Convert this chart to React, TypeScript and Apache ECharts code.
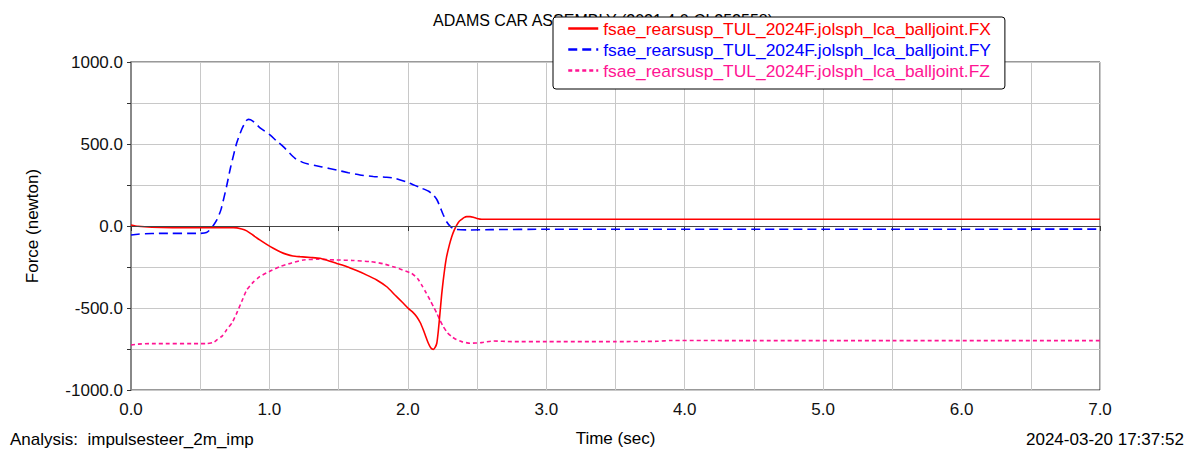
import React, { useEffect, useRef } from "react";
import * as echarts from "echarts";

const FONT = "'Liberation Sans', Arial, Helvetica, sans-serif";

const TITLE = "ADAMS CAR ASSEMBLY (2021.4.0-CL252558)";
const NAME_FX = "fsae_rearsusp_TUL_2024F.jolsph_lca_balljoint.FX";
const NAME_FY = "fsae_rearsusp_TUL_2024F.jolsph_lca_balljoint.FY";
const NAME_FZ = "fsae_rearsusp_TUL_2024F.jolsph_lca_balljoint.FZ";

const X_AXIS_NAME = "Time (sec)";
const Y_AXIS_NAME = "Force (newton)";
const ANALYSIS_TEXT = "Analysis:  impulsesteer_2m_imp";
const DATE_TEXT = "2024-03-20 17:37:52";

// FX (red, solid)
const tFX = [0, 0.05, 0.15, 0.3, 0.74, 0.8, 0.836, 0.88, 0.93, 0.98, 1.028, 1.08, 1.125, 1.17, 1.22, 1.3, 1.365, 1.42, 1.486, 1.56, 1.63, 1.7, 1.775, 1.85, 1.907, 1.96, 2.003, 2.035, 2.064, 2.09, 2.112, 2.13, 2.148, 2.165, 2.184, 2.197, 2.209, 2.22, 2.232, 2.244, 2.256, 2.268, 2.28, 2.3, 2.317, 2.335, 2.353, 2.37, 2.389, 2.405, 2.425, 2.45, 2.473, 2.5, 2.533, 3.0, 4.0, 5.0, 6.0, 7.0];
const vFX = [6, -2, -8, -10, -10, -18, -30, -55, -85, -112, -136, -158, -173, -183, -187, -192, -197, -210, -228, -248, -272, -298, -329, -372, -421, -465, -502, -525, -553, -590, -634, -675, -715, -742, -752, -740, -715, -640, -532, -420, -329, -250, -187, -115, -65, -25, 6, 28, 41, 51, 57, 57, 53, 46, 41, 41, 41, 41, 41, 41];

// FY (blue, dashed)
const tFY = [0, 0.05, 0.1, 0.2, 0.5, 0.545, 0.58, 0.62, 0.65, 0.69, 0.72, 0.763, 0.8, 0.83, 0.848, 0.88, 0.93, 1.004, 1.05, 1.1, 1.185, 1.24, 1.28, 1.38, 1.486, 1.57, 1.654, 1.75, 1.847, 1.907, 2.003, 2.1, 2.15, 2.184, 2.21, 2.232, 2.255, 2.28, 2.31, 2.34, 2.45, 2.6, 3.0, 5.0, 7.0];
const vFY = [-55, -50, -47, -45, -45, -40, -15, 37, 100, 240, 360, 504, 590, 640, 650, 640, 600, 555, 520, 484, 413, 388, 378, 360, 341, 325, 311, 302, 297, 291, 264, 230, 212, 189, 160, 118, 70, 26, -5, -20, -24, -22, -20, -20, -19];

// FZ (pink, dotted)
const tFZ = [0, 0.05, 0.15, 0.55, 0.6, 0.62, 0.66, 0.69, 0.73, 0.763, 0.8, 0.836, 0.88, 0.93, 1.0, 1.076, 1.16, 1.245, 1.35, 1.486, 1.6, 1.726, 1.82, 1.907, 2.027, 2.07, 2.1, 2.13, 2.16, 2.185, 2.209, 2.232, 2.256, 2.285, 2.317, 2.35, 2.389, 2.449, 2.533, 2.617, 2.75, 3.0, 3.5, 3.8, 3.9, 4.5, 5.5, 7.0];
const vFZ = [-726, -720, -717, -717, -708, -695, -670, -634, -590, -533, -460, -390, -345, -309, -277, -248, -225, -207, -203, -207, -210, -217, -230, -252, -289, -320, -360, -405, -451, -492, -532, -575, -614, -650, -675, -692, -705, -715, -711, -701, -705, -705, -705, -703, -698, -699, -699, -699];

const X_MIN = 0;
const X_MAX = 7;
const X_STEP = 1;
const Y_MIN = -1000;
const Y_MAX = 1000;
const Y_STEP = 500;

const zip = (t: number[], v: number[]) => t.map((x, i) => [x, v[i]]);

export default function App() {
  const ref = useRef<HTMLDivElement>(null);

  useEffect(() => {
    document.body.style.margin = "0";
    document.body.style.overflow = "hidden";
    if (!ref.current) return;
    const chart = echarts.init(ref.current, undefined, { renderer: "svg" });

    const gridColor = "#c8c8c8";
    const option: any = {
      animation: false,
      backgroundColor: "#ffffff",
      textStyle: { fontFamily: FONT },
      title: {
        text: TITLE,
        left: 433,
        top: 12,
        padding: 0,
        z: 2,
        textStyle: { fontSize: 16, fontWeight: "normal", color: "#000", fontFamily: FONT },
      },
      legend: {
        orient: "vertical",
        left: 553,
        top: 17,
        z: 20,
        padding: [3, 14, 10, 14],
        itemGap: 4,
        itemWidth: 30,
        itemHeight: 14,
        backgroundColor: "#ffffff",
        borderColor: "#000000",
        borderWidth: 1,
        borderRadius: 3,
        lineStyle: { width: 2.5 },
        itemStyle: { opacity: 0 },
        textStyle: { fontSize: 17.4, fontFamily: FONT },
        data: [
          { name: NAME_FX, textStyle: { color: "#ff0000" } },
          { name: NAME_FY, textStyle: { color: "#0000ff" } },
          { name: NAME_FZ, textStyle: { color: "#ff1493" } },
        ],
      },
      grid: {
        left: 131,
        right: 87,
        top: 62,
        bottom: 63,
        show: true,
        borderColor: "#333",
        borderWidth: 1,
        backgroundColor: "transparent",
      },
      xAxis: {
        type: "value",
        min: X_MIN,
        max: X_MAX,
        interval: X_STEP,
        name: X_AXIS_NAME,
        nameLocation: "middle",
        nameGap: 40,
        nameTextStyle: { fontSize: 17, color: "#000", fontFamily: FONT },
        axisLine: { show: true, lineStyle: { color: "#333", width: 1 } },
        axisTick: { show: true, length: 5, lineStyle: { color: "#333" } },
        minorTick: { show: true, splitNumber: 2, length: 5, lineStyle: { color: "#333" } },
        axisLabel: {
          fontSize: 17,
          color: "#111",
          margin: 11,
          fontFamily: FONT,
          formatter: (v: number) => v.toFixed(1),
        },
        splitLine: { show: true, lineStyle: { color: gridColor, width: 1 } },
        minorSplitLine: { show: true, lineStyle: { color: gridColor, width: 1 } },
      },
      yAxis: {
        type: "value",
        min: Y_MIN,
        max: Y_MAX,
        interval: Y_STEP,
        name: Y_AXIS_NAME,
        nameLocation: "middle",
        nameGap: 90,
        nameRotate: 90,
        nameTextStyle: { fontSize: 17, color: "#000", fontFamily: FONT },
        axisLine: { show: true, lineStyle: { color: "#888", width: 2 } },
        axisTick: { show: true, length: 4, lineStyle: { color: "#333" } },
        minorTick: { show: true, splitNumber: 2, length: 4, lineStyle: { color: "#333" } },
        axisLabel: {
          fontSize: 17,
          color: "#111",
          margin: 8,
          fontFamily: FONT,
          formatter: (v: number) => v.toFixed(1),
        },
        splitLine: { show: true, lineStyle: { color: gridColor, width: 1 } },
        minorSplitLine: { show: true, lineStyle: { color: gridColor, width: 1 } },
      },
      series: [
        {
          name: NAME_FX,
          type: "line",
          data: zip(tFX, vFX),
          symbol: "none",
          smooth: 0.2,
          z: 4,
          itemStyle: { color: "#ff0000" },
          lineStyle: { color: "#ff0000", width: 1.6, type: "solid" },
          markLine: {
            silent: true,
            symbol: ["none", "none"],
            label: { show: false },
            lineStyle: { color: "#444", width: 1, type: "solid" },
            data: [{ yAxis: 0 }],
          },
        },
        {
          name: NAME_FY,
          type: "line",
          data: zip(tFY, vFY),
          symbol: "none",
          smooth: 0.2,
          z: 3,
          itemStyle: { color: "#0000ff" },
          lineStyle: { color: "#0000ff", width: 1.6, type: [9, 5] },
        },
        {
          name: NAME_FZ,
          type: "line",
          data: zip(tFZ, vFZ),
          symbol: "none",
          smooth: 0.2,
          z: 2,
          itemStyle: { color: "#ff1493" },
          lineStyle: { color: "#ff1493", width: 1.6, type: [4, 3] },
        },
      ],
      graphic: [
        {
          type: "text",
          left: 10,
          top: 431,
          style: { text: ANALYSIS_TEXT, fontSize: 17, fill: "#000", fontFamily: FONT },
        },
        {
          type: "text",
          x: 1026,
          y: 431,
          style: { text: DATE_TEXT, fontSize: 17, fill: "#000", fontFamily: FONT },
        },
      ],
    };

    chart.setOption(option);
    return () => {
      chart.dispose();
    };
  }, []);

  return <div ref={ref} style={{ width: 1187, height: 453 }} />;
}
